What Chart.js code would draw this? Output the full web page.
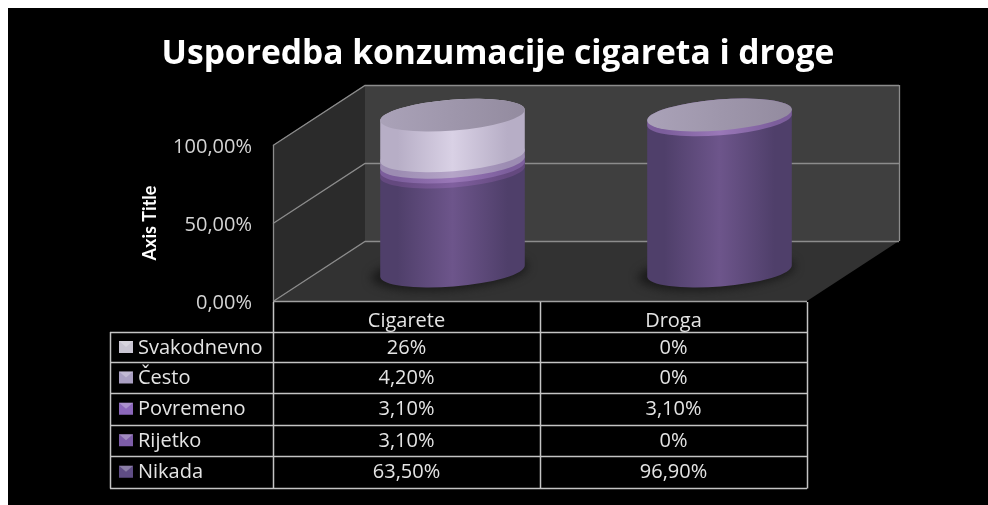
<!DOCTYPE html>
<html><head><meta charset="utf-8">
<style>html,body{margin:0;padding:0;background:#fff;overflow:hidden}
#wrap{position:absolute;left:8px;top:8px;width:980px;height:497px;background:#000}
canvas{display:block}</style>
<script src="https://cdn.jsdelivr.net/npm/chart.js@4"></script>
</head><body><div id="wrap"><canvas id="c" width="980" height="497"></canvas></div>
<script>
const categories = ["Cigarete", "Droga"];
const seriesNames = ["Svakodnevno", "Često", "Povremeno", "Rijetko", "Nikada"];
const svakodnevno = [0.26, 0];
const cesto = [0.042, 0];
const povremeno = [0.031, 0.031];
const rijetko = [0.031, 0];
const nikada = [0.635, 0.969];
const svakodnevnoLabels = ["26%", "0%"];
const cestoLabels = ["4,20%", "0%"];
const povremenoLabels = ["3,10%", "3,10%"];
const rijetkoLabels = ["3,10%", "0%"];
const nikadaLabels = ["63,50%", "96,90%"];
const yTickLabels = ["0,00%", "50,00%", "100,00%"];
const tableLabels = [svakodnevnoLabels, cestoLabels, povremenoLabels, rijetkoLabels, nikadaLabels];

const FONT = '"Open Sans", sans-serif';
const DEPTH_X = 92, DEPTH_Y = 60;
// colours in stacking order, bottom segment first
const stack = [nikada, rijetko, povremeno, cesto, svakodnevno];
const stackNames = ["Nikada", "Rijetko", "Povremeno", "Često", "Svakodnevno"];
const swatch = ["#5f4d85", "#7d5da8", "#8b67ba", "#a99fc2", "#c9c5d2"];
const edge = ["#4f3f6a", "#64497f", "#7c5e9c", "#9c8cb2", "#b7aec6"];
const mid = ["#6d558b", "#80609f", "#9a78b8", "#b5a5c8", "#d9d1e5"];

const scene = {
  id: "scene",
  beforeDraw(chart) {
    const s = chart.scales.y;
    if (!s._nudged) {
      const orig = s.drawLabels;
      s.drawLabels = function (area) {
        const c = this.ctx;
        c.save(); c.translate(0, 2);
        orig.call(this, area);
        c.restore();
      };
      s._nudged = true;
    }
  },
  beforeDatasetsDraw(chart) {
    const { ctx, chartArea: a, scales: { y } } = chart;
    const dx = DEPTH_X, dy = DEPTH_Y;
    const t = y.getPixelForValue(1), b = y.getPixelForValue(0);
    ctx.save();
    ctx.fillStyle = "#3f3f3f";
    ctx.fillRect(a.left + dx, t - dy, a.right - a.left, b - t);
    ctx.fillStyle = "#2b2b2b";
    ctx.beginPath();
    ctx.moveTo(a.left, b); ctx.lineTo(a.left, t);
    ctx.lineTo(a.left + dx, t - dy); ctx.lineTo(a.left + dx, b - dy); ctx.closePath(); ctx.fill();
    ctx.fillStyle = "#323232";
    ctx.beginPath();
    ctx.moveTo(a.left, b); ctx.lineTo(a.left + dx, b - dy);
    ctx.lineTo(a.right + dx, b - dy); ctx.lineTo(a.right, b); ctx.closePath(); ctx.fill();
    ctx.strokeStyle = "#8c8c8c"; ctx.lineWidth = 1.3;
    y.ticks.forEach(tk => {
      const p = Math.round(y.getPixelForValue(tk.value)) + 0.5;
      ctx.beginPath();
      ctx.moveTo(a.left, p); ctx.lineTo(a.left + dx, p - dy);
      ctx.lineTo(a.right + dx, p - dy);
      ctx.stroke();
    });
    ctx.beginPath();
    ctx.moveTo(a.left + 0.5, b); ctx.lineTo(a.left + 0.5, t);
    ctx.moveTo(a.right + dx + 0.5, b - dy); ctx.lineTo(a.right + dx + 0.5, t - dy);
    ctx.stroke();
    ctx.strokeStyle = "#a0a0a0"; ctx.lineWidth = 1.6;
    ctx.beginPath();
    ctx.moveTo(a.left, b + 0.5); ctx.lineTo(a.right, b + 0.5);
    ctx.stroke();
    ctx.restore();
  },
  beforeDatasetDraw() { return false; },
  afterDatasetsDraw(chart) {
    const { ctx } = chart;
    const ox = DEPTH_X / 2, oy = -DEPTH_Y / 2;
    const rot = -4.5 * Math.PI / 180, minor = 15.5;
    categories.forEach((_, ci) => {
      const els = chart.data.datasets.map((d, i) => ({ el: chart.getDatasetMeta(i).data[ci], v: d.data[ci], i }));
      const first = els[0].el;
      const cx = first.x + ox, r = first.width / 2;
      const baseY = first.base + oy;
      ctx.save();
      ctx.filter = "blur(5px)";
      ctx.fillStyle = "#1a1a1a";
      ctx.beginPath();
      ctx.ellipse(cx - 3, baseY + 1, r + 6, minor + 2, rot, 0, Math.PI * 2);
      ctx.fill();
      ctx.restore();
      let topY = baseY;
      els.forEach(({ el, v, i }) => {
        if (v <= 0) return;
        const yb = el.base + oy, yt = el.y + oy;
        topY = yt;
        const g = ctx.createLinearGradient(cx - r, 0, cx + r, 0);
        g.addColorStop(0, edge[i]);
        g.addColorStop(0.12, edge[i]);
        g.addColorStop(0.5, mid[i]);
        g.addColorStop(0.88, edge[i]);
        g.addColorStop(1, edge[i]);
        ctx.fillStyle = g;
        ctx.beginPath();
        ctx.ellipse(cx, yb, r, minor, rot, 0, Math.PI, false);
        ctx.ellipse(cx, yt, r, minor, rot, Math.PI, Math.PI * 2, false);
        ctx.closePath();
        ctx.fill();
      });
      const cg = ctx.createLinearGradient(cx - r, 0, cx + r, 0);
      cg.addColorStop(0, "#aaa2b8");
      cg.addColorStop(1, "#938b9f");
      ctx.fillStyle = cg;
      ctx.beginPath();
      ctx.ellipse(cx, topY, r, minor, rot, 0, Math.PI * 2);
      ctx.fill();
    });
  },
  afterDraw(chart) {
    const { ctx, chartArea: a, scales: { x } } = chart;
    const colX = [a.left, (x.getPixelForValue(0) + x.getPixelForValue(1)) / 2, a.right];
    const tblLeft = 102;
    const rowY = [324, 354, 385, 416.5, 448, 479.5];
    const headTop = a.bottom + 1;
    ctx.save();
    ctx.strokeStyle = "#c4c4c4"; ctx.lineWidth = 1.5;
    ctx.beginPath();
    rowY.forEach(p => { const q = Math.round(p) + .5; ctx.moveTo(tblLeft, q); ctx.lineTo(a.right, q); });
    colX.forEach(p => { const q = Math.round(p) + .5; ctx.moveTo(q, headTop); ctx.lineTo(q, Math.round(rowY[5]) + .5); });
    ctx.moveTo(tblLeft + .5, rowY[0]); ctx.lineTo(tblLeft + .5, Math.round(rowY[5]) + .5);
    ctx.stroke();
    ctx.font = "20px " + FONT;
    ctx.textBaseline = "middle";
    seriesNames.forEach((name, r) => {
      const cy = (rowY[r] + rowY[r + 1]) / 2;
      const si = 4 - r;
      ctx.fillStyle = swatch[si];
      ctx.fillRect(111, cy - 6, 14, 12);
      ctx.fillStyle = "rgba(255,255,255,0.28)";
      ctx.beginPath();
      ctx.moveTo(111, cy - 6); ctx.lineTo(125, cy - 6); ctx.lineTo(118, cy); ctx.closePath();
      ctx.fill();
      ctx.fillStyle = "#e4e4e4";
      ctx.textAlign = "left";
      ctx.fillText(name, 130, cy + 1);
      ctx.textAlign = "center";
      tableLabels[r].forEach((t, c) => ctx.fillText(t, x.getPixelForValue(c), cy + 1));
    });
    ctx.restore();
  }
};

new Chart(document.getElementById("c"), {
  type: "bar",
  data: {
    labels: categories,
    datasets: stack.map((values, i) => ({
      label: stackNames[i],
      data: values,
      backgroundColor: swatch[i],
      barThickness: 145
    }))
  },
  options: {
    responsive: false,
    animation: false,
    plugins: {
      legend: { display: false },
      tooltip: { enabled: false },
      title: {
        display: true,
        text: "Usporedba konzumacije cigareta i droge",
        color: "#ffffff",
        font: { family: FONT, size: 33.6, weight: "bold", lineHeight: "40px" },
        padding: { top: 26, bottom: 71 }
      }
    },
    scales: {
      x: {
        stacked: true,
        grid: { display: false, drawTicks: false },
        border: { display: false },
        ticks: { color: "#e4e4e4", font: { family: FONT, size: 20 }, padding: 8 },
        afterFit(s) { s.height = 204; }
      },
      y: {
        stacked: true,
        min: 0, max: 1,
        grid: { display: false, drawTicks: false },
        border: { display: false },
        ticks: {
          stepSize: 0.5,
          color: "#d4d4d4",
          font: { family: FONT, size: 20 },
          padding: 21,
          callback(v, i) { return yTickLabels[i]; }
        },
        title: {
          display: true,
          text: "Axis Title",
          color: "#ffffff",
          font: { family: "Lato, sans-serif", size: 18, weight: "bold", lineHeight: 1.2 },
          padding: { top: 131, bottom: 0 }
        },
        afterFit(s) { s.width = 265; }
      },
      spacer: {
        axis: "y",
        position: "right",
        display: true,
        grid: { display: false, drawTicks: false },
        border: { display: false },
        ticks: { display: false },
        afterFit(s) { s.width = 181; }
      }
    }
  },
  plugins: [scene]
});
</script></body></html>
